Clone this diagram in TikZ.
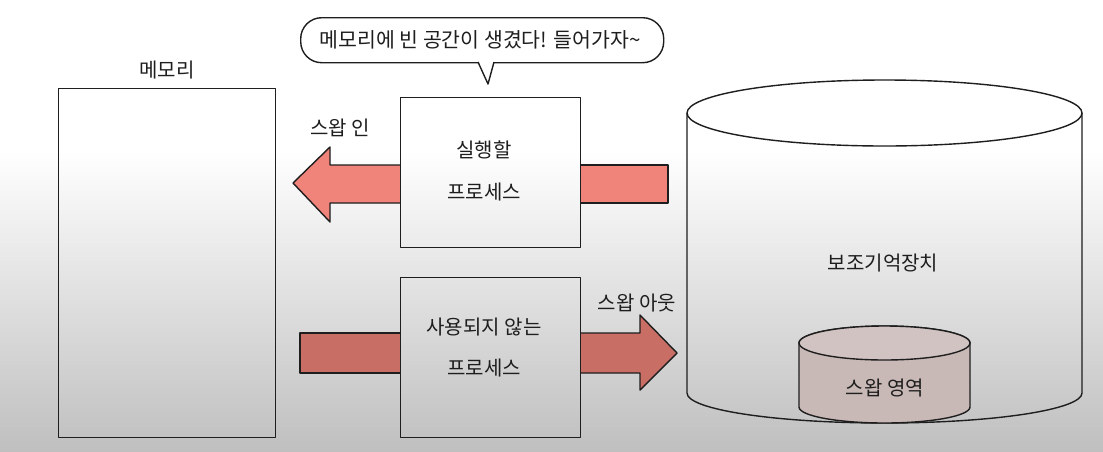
\documentclass[tikz,border=0pt]{standalone}
\usepackage{fontspec}
\setmainfont{Noto Sans CJK KR}
\usetikzlibrary{calc}
\definecolor{inred}{HTML}{F0837A}
\definecolor{outred}{HTML}{C96E64}
\definecolor{swapfill}{HTML}{C9B9B6}
\definecolor{ink}{HTML}{1E1E1E}
\begin{document}
\begin{tikzpicture}[x=1pt,y=-1pt,line join=round,
  outl/.style={draw=ink,line width=1.4pt},
  lbl/.style={font=\fontsize{20}{22}\selectfont,text=ink,inner sep=0pt},
  boxnode/.style={outl,rectangle,inner sep=0pt,anchor=north west},
  inarrow/.style={fill=inred,draw=ink,line width=1.4pt},
  outarrow/.style={fill=outred,draw=ink,line width=1.4pt}]
% background
\useasboundingbox (0,0) rectangle (1103,451);
\fill[white] (0,0) rectangle (1103,150);
\shade[top color=white,bottom color=black!25] (0,150) rectangle (1103,451);

% memory
\node[boxnode,minimum width=217pt,minimum height=349pt] (mem) at (58,88) {};
\node[lbl] (memlbl) at (167,70) {메모리};

% arrows
\draw[inarrow] (400,165) -- (330,165) -- (330,147) -- (293,183) -- (330,222) -- (330,203) -- (400,203);
\draw[inarrow] (580,165) -- (668,165) -- (668,203) -- (580,203);
\draw[outarrow] (400,333) -- (300,333) -- (300,373) -- (400,373);
\draw[outarrow] (580,333) -- (640,333) -- (640,315) -- (677,353) -- (640,390) -- (640,373) -- (580,373);

% process boxes
\node[boxnode,minimum width=180pt,minimum height=150pt] (run) at (400,97) {};
\node[lbl] (runa) at (484,150) {실행할};
\node[lbl] (runb) at (484,192) {프로세스};

\node[boxnode,minimum width=180pt,minimum height=160pt] (idle) at (400,277) {};
\node[lbl] (idlea) at (484,327) {사용되지 않는};
\node[lbl] (idleb) at (484,368) {프로세스};

\node[lbl] (swapin) at (340,128) {스왑 인};
\node[lbl] (swapout) at (637,303) {스왑 아웃};

% speech bubble
\node[outl,fill=white,rounded corners=21pt,minimum width=363pt,minimum height=45pt,anchor=north west] (bub) at (300,17) {};
\node[lbl,font=\fontsize{20.5}{22}\selectfont] (bubtxt) at (480,40) {메모리에 빈 공간이 생겼다! 들어가자{\char"007E}};
\coordinate (tl) at (478,62);
\coordinate (tr) at (494,62);
\coordinate (tip) at (488,84);
\fill[white] ($(tl)+(0.6,-1)$) -- (tip) -- ($(tr)+(-0.6,-1)$) -- cycle;
\draw[outl] (tl) -- (tip) -- (tr);

% storage cylinder
\draw[outl] (687,113) -- (687,393) arc[start angle=180,end angle=360,x radius=197.5pt,y radius=30pt] -- (1082,113);
\draw[outl] (884.5,113) ellipse[x radius=197.5pt,y radius=33pt];
\node[lbl] (stor) at (883,263) {보조기억장치};

% swap area cylinder
\draw[outl,fill=swapfill] (799,343) -- (799,407) arc[start angle=180,end angle=360,x radius=85.5pt,y radius=16pt] -- (970,343) arc[start angle=0,end angle=180,x radius=85.5pt,y radius=17pt] -- cycle;
\draw[outl,fill=swapfill!85!white] (884.5,343) ellipse[x radius=85.5pt,y radius=17pt];
\node[lbl] (swaparea) at (885,388) {스왑 영역};
\end{tikzpicture}
\end{document}
